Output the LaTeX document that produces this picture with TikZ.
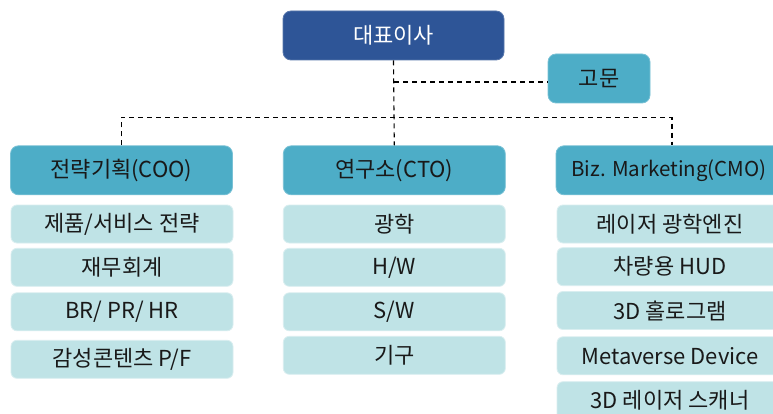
\documentclass[tikz,border=0pt]{standalone}
\usepackage{fontspec}
\setmainfont{Noto Sans CJK KR}
\definecolor{ceoblue}{HTML}{2E5597}
\definecolor{headteal}{HTML}{4DADC7}
\definecolor{sublight}{HTML}{BFE3E6}
\begin{document}
\begin{tikzpicture}[x=1pt,y=-1pt,
  every node/.style={font=\fontsize{22}{26}\selectfont, inner sep=0pt, align=center},
  topbox/.style={fill=ceoblue, draw=ceoblue!80!white, line width=0.8pt, rounded corners=8pt, text=white, minimum width=221pt, minimum height=49pt},
  headbox/.style={fill=headteal, draw=headteal!75!white, line width=0.8pt, rounded corners=8pt, text=black!90, minimum width=222pt, minimum height=49pt},
  advbox/.style={headbox, minimum width=102pt},
  subbox/.style={fill=sublight, draw=sublight!60!white, line width=0.8pt, rounded corners=6pt, text=black!90, minimum width=222pt, minimum height=38pt},
  link/.style={draw=black, line width=1.1pt, dash pattern=on 5pt off 4pt}
]
\useasboundingbox (0,0) rectangle (773,414);
\clip (0,0) rectangle (773,414);
\fill[white] (0,0) rectangle (773,414);

\node[topbox] (ceo) at (393.5,35.5) {대표이사};
\node[advbox] (adv) at (599,78.5) {고문};

\node[headbox] (coo) at (121.5,170.3) {전략기획(COO)};
\node[headbox] (cto) at (394.3,170.3) {연구소(CTO)};
\node[headbox, minimum width=226pt, font=\fontsize{20.5}{24}\selectfont] (cmo) at (669,170.3) {Biz. Marketing(CMO)};

\node[subbox] (c1) at (122,224) {제품/서비스 전략};
\node[subbox] (c2) at (122,267.3) {재무회계};
\node[subbox] (c3) at (122,311.8) {BR/ PR/ HR};
\node[subbox] (c4) at (122,359.3) {감성콘텐츠 P/F};

\node[subbox] (t1) at (394.3,224) {광학};
\node[subbox] (t2) at (394.3,267.3) {H/W};
\node[subbox] (t3) at (394.3,311.8) {S/W};
\node[subbox] (t4) at (394.3,355.3) {기구};

\node[subbox, minimum width=226pt] (m1) at (670,224) {레이저 광학엔진};
\node[subbox, minimum width=226pt] (m2) at (670,266.7) {차량용 HUD};
\node[subbox, minimum width=226pt] (m3) at (670,310.5) {3D 홀로그램};
\node[subbox, minimum width=226pt] (m4) at (670,355.8) {Metaverse Device};
\node[subbox, minimum width=226pt] (m5) at (670,400.7) {3D 레이저 스캐너};

\coordinate (bus) at (394,117.3);
\coordinate (advj) at (394,82);
\draw[link] (ceo.south) -- (cto.north);
\draw[link] (advj) -- (adv.west |- advj);
\draw[link] (coo.north) |- (bus) -| ([xshift=3pt]cmo.north);
\end{tikzpicture}
\end{document}
